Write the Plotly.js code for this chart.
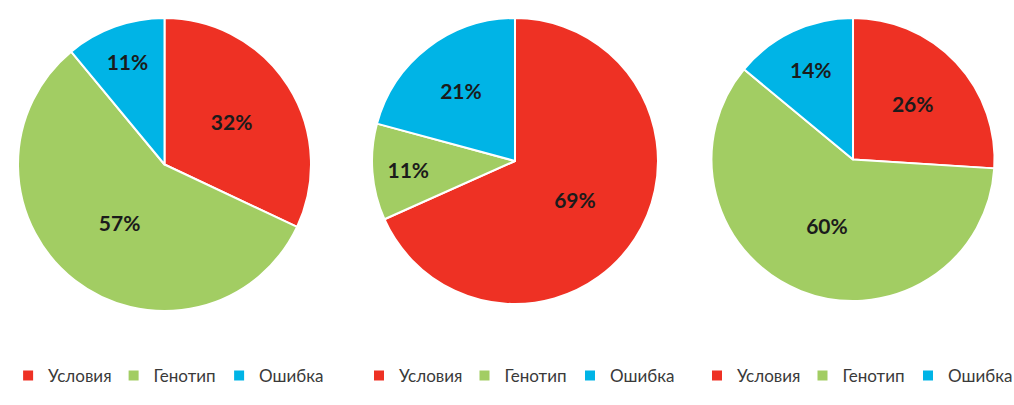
<!DOCTYPE html>
<html>
<head>
<meta charset="utf-8">
<script src="https://cdn.plot.ly/plotly-3.0.1.min.js"></script>
<style>
  body { margin: 0; background: #fff; }
  .pane { position: absolute; top: 0; width: 338px; height: 405px; }
</style>
</head>
<body>
<div id="c1" class="pane" style="left:0px"></div>
<div id="c2" class="pane" style="left:338px"></div>
<div id="c3" class="pane" style="left:676px"></div>
<script>
let labels = ["Условия", "Генотип", "Ошибка"];
let colors = ["#EE3124", "#A2CD63", "#00B4E6"];
let pie1 = [32, 57, 11];
let pie2 = [69, 11, 21];
let pie3 = [26, 60, 14];

function drawPie(id, vals, dom, legX) {
    var trace = {
        type: 'pie',
        values: vals,
        labels: labels,
        sort: false,
        direction: 'clockwise',
        rotation: 0,
        domain: dom,
        marker: { colors: colors, line: { color: '#ffffff', width: 2 } },
        texttemplate: '%{value}%',
        textposition: 'inside',
        insidetextorientation: 'horizontal',
        textfont: { family: 'Lato, sans-serif', size: 21, color: '#1b1b1b', weight: 'bold' },
        hoverinfo: 'label+value'
    };
    var layout = {
        width: 338,
        height: 405,
        margin: { l: 0, r: 0, t: 0, b: 0 },
        paper_bgcolor: 'rgba(0,0,0,0)',
        showlegend: true,
        legend: {
            orientation: 'h',
            x: legX,
            y: 0.072,
            xanchor: 'left',
            yanchor: 'middle',
            font: { family: 'Lato, sans-serif', size: 17, color: '#3a3a3a' },
            itemwidth: 30,
            entrywidth: 60.5,
            bgcolor: 'rgba(0,0,0,0)'
        }
    };
    Plotly.newPlot(id, [trace], layout, { displayModeBar: false });
}

drawPie('c1', pie1, { x: [0.0533, 0.9201], y: [0.232, 0.9556] }, 0.024);
drawPie('c2', pie2, { x: [0.1006, 0.9467], y: [0.2494, 0.9556] }, 0.068);
drawPie('c3', pie3, { x: [0.1036, 0.9438], y: [0.2568, 0.9556] }, 0.074);
</script>
</body>
</html>
